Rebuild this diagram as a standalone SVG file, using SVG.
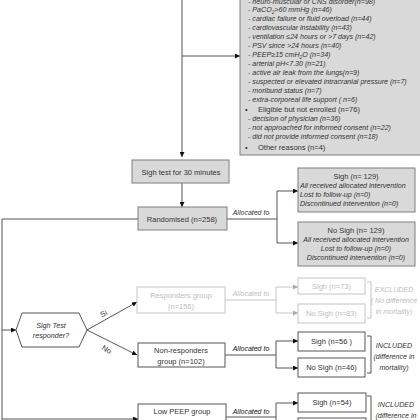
<svg xmlns="http://www.w3.org/2000/svg" width="420" height="420" viewBox="0 0 420 420">
<style>
text{font-family:"Liberation Sans",Arial,sans-serif;fill:#333}
.n{font-size:7.5px}
.i{font-size:7.1px;font-style:italic}
.c{text-anchor:middle}
.g{fill:#bdbdbd}
.gb{fill:#d9d9d9;stroke:#7f7f7f;stroke-width:1}
.wb{fill:#fff;stroke:#555;stroke-width:1}
.lb{fill:#fff;stroke:#c4c4c4;stroke-width:1}
.ln{fill:none;stroke:#555;stroke-width:1}
.lg{fill:none;stroke:#c4c4c4;stroke-width:1}
</style>
<defs>
<marker id="a" viewBox="0 0 6 6" refX="6" refY="3" markerWidth="5" markerHeight="5" orient="auto" markerUnits="userSpaceOnUse"><path d="M0,0L6,3L0,6z" fill="#111"/></marker>
<marker id="ag" viewBox="0 0 6 6" refX="6" refY="3" markerWidth="5" markerHeight="5" orient="auto" markerUnits="userSpaceOnUse"><path d="M0,0L6,3L0,6z" fill="#aaa"/></marker>
</defs>
<rect width="420" height="420" fill="#fff"/>
<g id="connectors">
<path class="ln" d="M182,-2V157" marker-end="url(#a)"/>
<path class="ln" d="M182,56H240" marker-end="url(#a)"/>
<path class="ln" d="M182,183V207" marker-end="url(#a)"/>
<path class="ln" d="M227,219H277V191H298" marker-end="url(#a)"/>
<path class="ln" d="M277,219V243H298" marker-end="url(#a)"/>
<path class="ln" d="M138,219H2V430"/>
<path class="ln" d="M2,330H16" marker-end="url(#a)"/>
<path class="ln" d="M2,419H138" marker-end="url(#a)"/>
<path class="ln" d="M87,330L137,302" marker-end="url(#a)"/>
<path class="ln" d="M87,330L137,355" marker-end="url(#a)"/>
<path class="lg" d="M225,300H276V287H298" marker-end="url(#ag)"/>
<path class="lg" d="M276,300V313H298" marker-end="url(#ag)"/>
<path class="ln" d="M225,355H276V341H298" marker-end="url(#a)"/>
<path class="ln" d="M276,355V368H298" marker-end="url(#a)"/>
<path class="ln" d="M226,417H276V403H298" marker-end="url(#a)"/>
<path class="ln" d="M276,417V430"/>
<path class="lg" d="M367,282H371V318H367"/>
<path class="ln" d="M367,336H371V373H367"/>
<path class="ln" d="M367,396H371V425"/>
<text class="i" x="251" y="215" text-anchor="middle" style="font-size:7px">Allocated to</text>
<text class="i g" x="251" y="296" text-anchor="middle" style="font-size:7px">Allocated to</text>
<text class="i" x="251" y="351" text-anchor="middle" style="font-size:7px;fill:#111">Allocated to</text>
<text class="i" x="251" y="414" text-anchor="middle" style="font-size:7px;fill:#111">Allocated to</text>
<text class="n" x="104" y="316" transform="rotate(-30 104 314)" text-anchor="middle">Si</text>
<text class="n" x="107" y="352" transform="rotate(30 107 349)" text-anchor="middle">No</text>
</g>
<g id="exclusions">
<rect class="gb" x="240" y="-5" width="185" height="160"/>
<text class="i" x="248" y="4">- neuro-muscular or CNS disorder(n=98)</text>
<text class="i" x="248" y="12">- PaCO<tspan font-size="4.8" dy="1.5">2</tspan><tspan dy="-1.5">&gt;60 mmHg (n=46)</tspan></text>
<text class="i" x="248" y="21">- cardiac failure or fluid overload (n=44)</text>
<text class="i" x="248" y="30">- cardiovascular instability (n=43)</text>
<text class="i" x="248" y="39">- ventilation ≤24 hours or &gt;7 days (n=42)</text>
<text class="i" x="248" y="48">- PSV since &gt;24 hours (n=40)</text>
<text class="i" x="248" y="57">- PEEP≥15 cmH<tspan font-size="4.8" dy="1.5">2</tspan><tspan dy="-1.5">O (n=34)</tspan></text>
<text class="i" x="248" y="66">- arterial pH&lt;7.30 (n=21)</text>
<text class="i" x="248" y="75">- active air leak from the lungs(n=9)</text>
<text class="i" x="248" y="84">- suspected or elevated intracranial pressure (n=7)</text>
<text class="i" x="248" y="93">- moribund status (n=7)</text>
<text class="i" x="248" y="102">- extra-corporeal life support ( n=6)</text>
<text class="n" x="245" y="112">•</text>
<text class="n" x="258" y="112">Eligible but not enrolled (n=76)</text>
<text class="i" x="248" y="121">- decision of physician (n=36)</text>
<text class="i" x="248" y="130">- not approached for informed consent (n=22)</text>
<text class="i" x="248" y="139">- did not provide informed consent (n=18)</text>
<text class="n" x="245" y="150">•</text>
<text class="n" x="258" y="150">Other reasons (n=4)</text>
</g>
<g id="sightest">
<rect class="gb" x="132" y="160" width="97" height="23"/>
<text class="n c" x="181" y="174.5">Sigh test for 30 minutes</text>
</g>
<g id="randomised">
<rect class="gb" x="138" y="207" width="89" height="23"/>
<text class="n c" x="182" y="221.5">Randomised (n=258)</text>
</g>
<g id="sigh129">
<rect class="gb" x="298" y="168" width="117" height="44"/>
<text class="n c" x="356" y="179">Sigh (n= 129)</text>
<text class="i" x="300" y="188">All received allocated intervention</text>
<text class="i" x="300" y="197">Lost to follow-up (n=0)</text>
<text class="i" x="300" y="206">Discontinued intervention (n=0)</text>
</g>
<g id="nosigh129">
<rect class="gb" x="298" y="222" width="117" height="44"/>
<text class="n c" x="356" y="233">No Sigh (n= 129)</text>
<text class="i c" x="356" y="242">All received allocated intervention</text>
<text class="i c" x="356" y="251">Lost to follow-up (n=0)</text>
<text class="i c" x="356" y="260">Discontinued intervention (n=0)</text>
</g>
<g id="responder">
<path d="M16,330L22,313H79L87,330L79,347H22Z" fill="#fff" stroke="#555"/>
<text class="i c" x="51" y="328" style="font-size:7.2px">Sigh Test</text>
<text class="i c" x="51" y="338" style="font-size:7.2px">responder?</text>
</g>
<g id="responders">
<rect class="lb" x="137" y="287" width="88" height="26"/>
<text class="n c g" x="181" y="298">Responders group</text>
<text class="n c g" x="181" y="309">(n=156)</text>
</g>
<g id="sigh73">
<rect class="lb" x="298" y="278" width="67" height="16"/>
<text class="n c g" x="331.5" y="288.5">Sigh (n=73)</text>
</g>
<g id="nosigh83">
<rect class="lb" x="298" y="304" width="67" height="19"/>
<text class="n c g" x="331.5" y="316">No Sigh (n=83)</text>
</g>
<g id="excluded">
<text class="i c g" x="394" y="292">EXCLUDED</text>
<text class="i c g" x="394" y="303">( No difference</text>
<text class="i c g" x="394" y="314">in mortality)</text>
</g>
<g id="nonresponders">
<rect class="wb" x="138" y="343" width="87" height="24"/>
<text class="n c" x="181" y="353">Non-responders</text>
<text class="n c" x="181" y="364">group (n=102)</text>
</g>
<g id="sigh56">
<rect class="wb" x="298" y="332" width="67" height="19"/>
<text class="n c" x="331.5" y="344">Sigh (n=56 )</text>
</g>
<g id="nosigh46">
<rect class="wb" x="298" y="358" width="67" height="19"/>
<text class="n c" x="331.5" y="370">No Sigh (n=46)</text>
</g>
<g id="included1">
<text class="i c" x="394" y="348">INCLUDED</text>
<text class="i c" x="394" y="359">(difference in</text>
<text class="i c" x="394" y="370">mortality)</text>
</g>
<g id="lowpeep">
<rect class="wb" x="138" y="404" width="88" height="26"/>
<text class="n c" x="182" y="414">Low PEEP group</text>
<text class="n c" x="182" y="425">(n=112)</text>
</g>
<g id="sigh54">
<rect class="wb" x="298" y="393" width="68" height="19"/>
<text class="n c" x="332" y="405">Sigh (n=54)</text>
</g>
<g id="nosighlow">
<rect class="wb" x="298" y="418" width="68" height="19"/>
</g>
<g id="included2">
<text class="i c" x="396" y="407">INCLUDED</text>
<text class="i c" x="396" y="418">(difference in</text>
</g>
</svg>
